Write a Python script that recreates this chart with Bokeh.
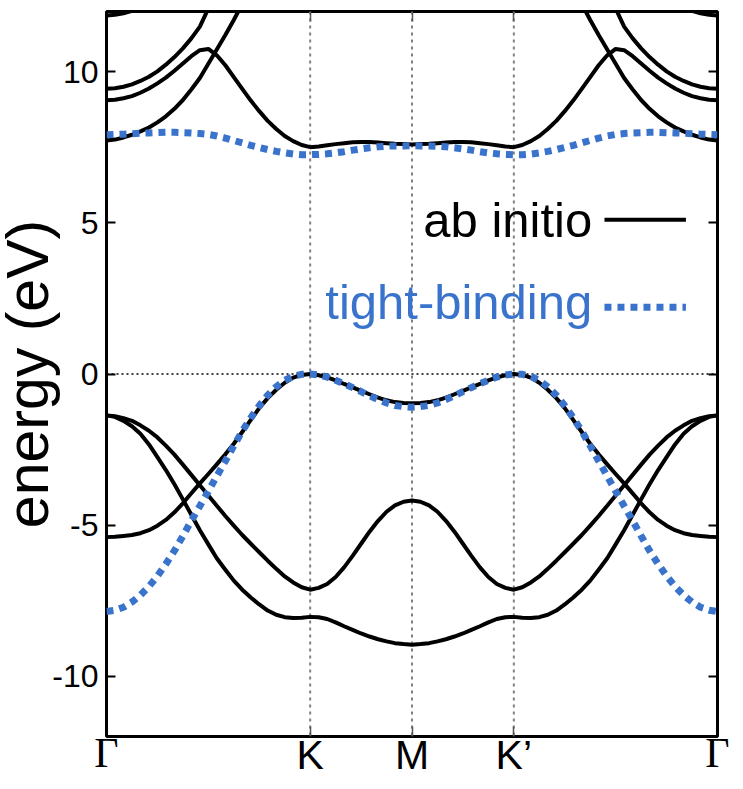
import numpy as np
from bokeh.plotting import figure
from bokeh.models import Range1d, LinearAxis, FixedTicker, Span, Label, Title
from bokeh.embed import file_html
from bokeh.resources import INLINE

nan = float("nan")

# ---- k-path (Γ=0, K=2, M=3, K'=4, Γ=6) ----
K_PATH = [0.000, 0.083, 0.167, 0.250, 0.333, 0.417, 0.500, 0.583, 0.667, 0.750, 0.833, 0.917,
          1.000, 1.083, 1.167, 1.250, 1.333, 1.417, 1.500, 1.583, 1.667, 1.750, 1.833, 1.917,
          2.000, 2.083, 2.167, 2.250, 2.333, 2.417, 2.500, 2.583, 2.667, 2.750, 2.833, 2.917,
          3.000, 3.083, 3.167, 3.250, 3.333, 3.417, 3.500, 3.583, 3.667, 3.750, 3.833, 3.917,
          4.000, 4.083, 4.167, 4.250, 4.333, 4.417, 4.500, 4.583, 4.667, 4.750, 4.833, 4.917,
          5.000, 5.083, 5.167, 5.250, 5.333, 5.417, 5.500, 5.583, 5.667, 5.750, 5.833, 5.917,
          6.000]

X_TICKS = [2, 3, 4]
X_TICK_LABELS = ["K", "M", "K\u2019"]
GAMMA_TICKS = [0, 6]
GAMMA_LABEL = "\u0393"
Y_TICKS = [-10, -5, 0, 5, 10]
Y_TICK_LABELS = ["-10", "-5", "0", "5", "10"]
Y_TITLE = "energy (eV)"

# ---- ab initio bands (eV): Γ -> K -> M | M -> K' -> Γ ----
AB_V1 = ([-5.40, -5.39, -5.36, -5.33, -5.27, -5.17, -5.02, -4.83, -4.58, -4.28, -3.95, -3.62,
          -3.31, -2.99, -2.66, -2.31, -1.92, -1.52, -1.13, -0.80, -0.52, -0.29, -0.12, -0.03,
          0.00, -0.04, -0.11, -0.21, -0.33, -0.44, -0.56, -0.67, -0.78, -0.87, -0.93, -0.96, -0.97]
         + [-0.96, -0.93, -0.87, -0.78, -0.67, -0.56, -0.44, -0.33, -0.21, -0.11, -0.04, 0.00,
            -0.03, -0.12, -0.29, -0.52, -0.80, -1.13, -1.52, -1.92, -2.31, -2.66, -2.99, -3.31,
            -3.62, -3.95, -4.28, -4.58, -4.83, -5.02, -5.17, -5.27, -5.33, -5.36, -5.39, -5.40])
AB_V2 = ([-1.37, -1.40, -1.46, -1.55, -1.70, -1.88, -2.10, -2.37, -2.67, -3.00, -3.34, -3.68,
          -4.02, -4.36, -4.70, -5.02, -5.33, -5.62, -5.90, -6.18, -6.45, -6.70, -6.90, -7.06,
          -7.14, -7.08, -6.95, -6.72, -6.40, -6.02, -5.62, -5.22, -4.86, -4.56, -4.35, -4.23, -4.19]
         + [-4.23, -4.35, -4.56, -4.86, -5.22, -5.62, -6.02, -6.40, -6.72, -6.95, -7.08, -7.14,
            -7.06, -6.90, -6.70, -6.45, -6.18, -5.90, -5.62, -5.33, -5.02, -4.70, -4.36, -4.02,
            -3.68, -3.34, -3.00, -2.67, -2.37, -2.10, -1.88, -1.70, -1.55, -1.46, -1.40, -1.37])
AB_V3 = ([-1.37, -1.42, -1.55, -1.73, -1.98, -2.33, -2.75, -3.18, -3.65, -4.15, -4.66, -5.17,
          -5.64, -6.10, -6.48, -6.84, -7.14, -7.40, -7.63, -7.83, -7.97, -8.05, -8.08, -8.07,
          -8.04, -8.05, -8.11, -8.22, -8.35, -8.47, -8.59, -8.69, -8.78, -8.85, -8.91, -8.94, -8.96]
         + [-8.94, -8.91, -8.85, -8.78, -8.69, -8.59, -8.47, -8.35, -8.22, -8.11, -8.05, -8.04,
            -8.07, -8.08, -8.05, -7.97, -7.83, -7.63, -7.40, -7.14, -6.84, -6.48, -6.10, -5.64,
            -5.17, -4.66, -4.15, -3.65, -3.18, -2.75, -2.33, -1.98, -1.73, -1.55, -1.42, -1.37])
AB_C1 = ([7.73, 7.76, 7.83, 7.92, 8.03, 8.16, 8.33, 8.53, 8.78, 9.07, 9.42, 9.80,
          10.27, 10.74, 11.22, 11.72, 12.25, 12.80, nan, nan, nan, nan, nan, nan,
          nan, nan, nan, nan, nan, nan, nan, nan, nan, nan, nan, nan, nan]
         + [nan, nan, nan, nan, nan, nan, nan, nan, nan, nan, nan, nan,
            nan, nan, nan, nan, nan, nan, 12.80, 12.25, 11.72, 11.22, 10.74, 10.27,
            9.80, 9.42, 9.07, 8.78, 8.53, 8.33, 8.16, 8.03, 7.92, 7.83, 7.76, 7.73])
AB_C2 = ([9.06, 9.08, 9.13, 9.20, 9.31, 9.45, 9.62, 9.81, 10.04, 10.28, 10.52, 10.72,
          10.76, 10.55, 10.22, 9.83, 9.44, 9.05, 8.70, 8.38, 8.11, 7.88, 7.71, 7.58,
          7.51, 7.53, 7.57, 7.61, 7.64, 7.67, 7.68, 7.68, 7.66, 7.64, 7.62, 7.61, 7.60]
         + [7.61, 7.62, 7.64, 7.66, 7.68, 7.68, 7.67, 7.64, 7.61, 7.57, 7.53, 7.51,
            7.58, 7.71, 7.88, 8.11, 8.38, 8.70, 9.05, 9.44, 9.83, 10.22, 10.55, 10.76,
            10.72, 10.52, 10.28, 10.04, 9.81, 9.62, 9.45, 9.31, 9.20, 9.13, 9.08, 9.06])
AB_C3 = ([9.44, 9.46, 9.51, 9.59, 9.70, 9.84, 10.02, 10.24, 10.49, 10.78, 11.11, 11.50,
          12.10, 12.60, nan, nan, nan, nan, nan, nan, nan, nan, nan, nan,
          nan, nan, nan, nan, nan, nan, nan, nan, nan, nan, nan, nan, nan]
         + [nan, nan, nan, nan, nan, nan, nan, nan, nan, nan, nan, nan,
            nan, nan, nan, nan, nan, nan, nan, nan, nan, nan, 12.60, 12.10,
            11.50, 11.11, 10.78, 10.49, 10.24, 10.02, 9.84, 9.70, 9.59, 9.51, 9.46, 9.44])
AB_C4 = ([11.87, 11.89, 11.94, 12.02, 12.12, 12.25, nan, nan, nan, nan, nan, nan,
          nan, nan, nan, nan, nan, nan, nan, nan, nan, nan, nan, nan,
          nan, nan, nan, nan, nan, nan, nan, nan, nan, nan, nan, nan, nan]
         + [nan, nan, nan, nan, nan, nan, nan, nan, nan, nan, nan, nan,
            nan, nan, nan, nan, nan, nan, nan, nan, nan, nan, nan, nan,
            nan, nan, nan, nan, nan, nan, 12.25, 12.12, 12.02, 11.94, 11.89, 11.87])

# ---- tight-binding bands (eV) ----
TB_V = ([-7.86, -7.82, -7.72, -7.55, -7.32, -7.03, -6.69, -6.29, -5.85, -5.36, -4.86, -4.37,
         -3.88, -3.38, -2.88, -2.38, -1.89, -1.45, -1.05, -0.70, -0.42, -0.21, -0.08, -0.01,
         0.00, -0.03, -0.10, -0.21, -0.32, -0.45, -0.58, -0.72, -0.85, -0.96, -1.04, -1.08, -1.10]
        + [-1.08, -1.04, -0.96, -0.85, -0.72, -0.58, -0.45, -0.32, -0.21, -0.10, -0.03, 0.00,
           -0.01, -0.08, -0.21, -0.42, -0.70, -1.05, -1.45, -1.89, -2.38, -2.88, -3.38, -3.88,
           -4.37, -4.86, -5.36, -5.85, -6.29, -6.69, -7.03, -7.32, -7.55, -7.72, -7.82, -7.86])
TB_C = ([7.92, 7.93, 7.94, 7.95, 7.97, 7.98, 7.99, 8.00, 8.00, 7.99, 7.98, 7.96,
         7.93, 7.88, 7.81, 7.73, 7.65, 7.57, 7.50, 7.43, 7.37, 7.32, 7.28, 7.26,
         7.26, 7.27, 7.29, 7.32, 7.36, 7.41, 7.45, 7.49, 7.52, 7.54, 7.55, 7.55, 7.56]
        + [7.55, 7.55, 7.54, 7.52, 7.49, 7.45, 7.41, 7.36, 7.32, 7.29, 7.27, 7.26,
           7.26, 7.28, 7.32, 7.37, 7.43, 7.50, 7.57, 7.65, 7.73, 7.81, 7.88, 7.93,
           7.96, 7.98, 7.99, 8.00, 8.00, 7.99, 7.98, 7.97, 7.95, 7.94, 7.93, 7.92])

AB_BANDS = [AB_V1, AB_V2, AB_V3, AB_C1, AB_C2, AB_C3, AB_C4]
TB_BANDS = [TB_V, TB_C]

SERIES_NAMES = ["ab initio", "tight-binding"]

# ---- styling / layout ----
FONT = "Liberation Sans"
BLUE = "#3a73cc"
BLACK = "#000000"
LEG_TEXT_X = 4.77
LEG_TEXT_Y = [5.09, 2.38]
LEG_LINE_X = (4.89, 5.69)
LEG_LINE_Y = [5.11, 2.21]

p = figure(width=735, height=782, x_range=Range1d(0, 6), y_range=Range1d(-12, 12),
           output_backend="svg", toolbar_location=None,
           min_border_left=106, min_border_right=18, min_border_top=11, min_border_bottom=46)
p.xgrid.visible = False
p.ygrid.visible = False
p.outline_line_color = "black"
p.outline_line_width = 3
p.outline_line_alpha = 1.0
p.background_fill_color = "white"
p.border_fill_color = "white"

# left axis
yax = p.yaxis[0]
yax.ticker = FixedTicker(ticks=Y_TICKS)
yax.major_label_overrides = {t: s for t, s in zip(Y_TICKS, Y_TICK_LABELS)}
yax.major_label_text_font = FONT
yax.major_label_text_font_size = "32px"
yax.major_label_text_color = "black"
yax.major_label_standoff = 8
yax.major_tick_in = 9
yax.major_tick_out = 0
yax.major_tick_line_width = 2
yax.minor_tick_line_color = None
yax.axis_line_color = None

# y-axis title as a side title (negative standoff keeps its panel narrow)
p.add_layout(Title(text=Y_TITLE, align="center", vertical_align="middle",
                   text_font=FONT, text_font_size="59px", text_font_style="normal",
                   text_color="black", standoff=-24), "left")

# right axis (ticks only)
rax = LinearAxis(ticker=FixedTicker(ticks=Y_TICKS), major_tick_in=9, major_tick_out=0,
                 major_tick_line_width=2, minor_tick_line_color=None, axis_line_color=None,
                 major_label_text_color=None, major_label_text_font_size="1px",
                 major_label_standoff=0)
p.add_layout(rax, "right")

# bottom axis: K, M, K'
xax = p.xaxis[0]
xax.ticker = FixedTicker(ticks=X_TICKS)
xax.major_label_overrides = {t: s for t, s in zip(X_TICKS, X_TICK_LABELS)}
xax.major_label_text_font = FONT
xax.major_label_text_font_size = "41px"
xax.major_label_text_color = "black"
xax.major_label_standoff = -5
xax.major_tick_in = 10
xax.major_tick_out = 0
xax.major_tick_line_color = "#555555"
xax.major_tick_line_width = 1.5
xax.minor_tick_line_color = None
xax.axis_line_color = None

# bottom axis: Γ (serif), drawn on the same row as K, M, K'
gax = LinearAxis(ticker=FixedTicker(ticks=GAMMA_TICKS),
                 major_label_overrides={t: GAMMA_LABEL for t in GAMMA_TICKS},
                 major_label_text_font="Liberation Serif", major_label_text_font_size="42px",
                 major_label_text_color="black", major_label_standoff=-51,
                 major_tick_line_color=None, minor_tick_line_color=None, axis_line_color=None,
                 major_tick_in=0, major_tick_out=0)
p.add_layout(gax, "below")

# top axis (ticks only)
tax = LinearAxis(ticker=FixedTicker(ticks=X_TICKS), major_tick_in=10, major_tick_out=0,
                 major_tick_line_color="#555555", major_tick_line_width=1.5,
                 minor_tick_line_color=None, axis_line_color=None,
                 major_label_text_color=None, major_label_text_font_size="1px",
                 major_label_standoff=0)
p.add_layout(tax, "above")

# reference lines
for xt in X_TICKS:
    p.add_layout(Span(location=xt, dimension="height", line_color="#7f7f7f",
                      line_dash="3 4", line_width=2, level="underlay"))
p.add_layout(Span(location=0, dimension="width", line_color="black",
                  line_dash="2 3", line_width=1.5, level="underlay"))

kx = np.array(K_PATH, dtype=float)
for band in AB_BANDS:
    p.line(kx, np.array(band, dtype=float), line_color=BLACK, line_width=4,
           line_join="round", line_cap="round")
for band in TB_BANDS:
    p.line(kx, np.array(band, dtype=float), line_color=BLUE, line_width=7,
           line_dash="7 6")

# legend (text left, sample right)
p.add_layout(Label(x=LEG_TEXT_X, y=LEG_TEXT_Y[0], text=SERIES_NAMES[0], text_align="right",
                   text_baseline="alphabetic", text_font=FONT, text_font_size="49px",
                   text_color=BLACK))
p.add_layout(Label(x=LEG_TEXT_X, y=LEG_TEXT_Y[1], text=SERIES_NAMES[1], text_align="right",
                   text_baseline="alphabetic", text_font=FONT, text_font_size="49px",
                   text_color=BLUE))
p.segment(x0=[LEG_LINE_X[0]], y0=[LEG_LINE_Y[0]], x1=[LEG_LINE_X[1]], y1=[LEG_LINE_Y[0]],
          line_color=BLACK, line_width=4)
p.segment(x0=[LEG_LINE_X[0]], y0=[LEG_LINE_Y[1]], x1=[LEG_LINE_X[1]], y1=[LEG_LINE_Y[1]],
          line_color=BLUE, line_width=7, line_dash="7 6")

open("out.html", "w").write(file_html(p, INLINE))
